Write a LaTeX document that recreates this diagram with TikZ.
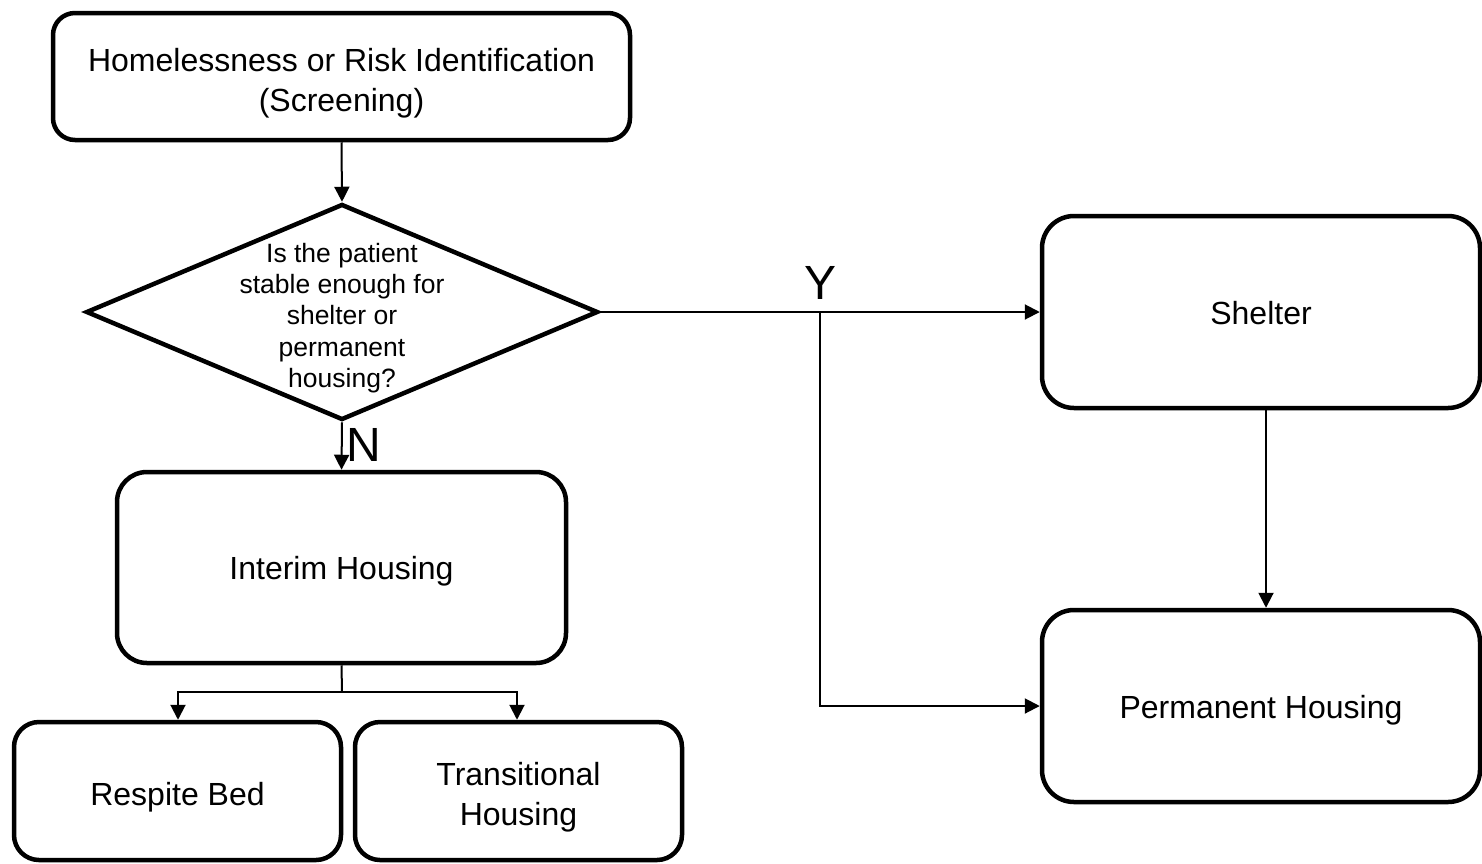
\documentclass[tikz,border=0pt]{standalone}
\usepackage{fontspec}
\setmainfont{Liberation Sans}
\usetikzlibrary{shapes.geometric,arrows.meta}
\begin{document}
\begin{tikzpicture}[x=1pt,y=-1pt,
  box/.style={draw,line width=4.5pt,rounded corners=#1,inner sep=0pt},
  txt/.style={align=center,inner sep=0pt,font=\fontsize{32}{40}\selectfont},
  conn/.style={line width=2pt,-{Triangle[length=15pt,width=15pt]}},
  plain/.style={line width=2pt},
  yn/.style={font=\fontsize{48}{50}\selectfont,inner sep=0pt}]
\useasboundingbox (0,0) rectangle (1482,863);
\node[box=22pt,minimum width=577pt,minimum height=127pt,
  label={[txt,yshift=-7pt]center:Homelessness or Risk Identification\\(Screening)}] (screen) at (341.5,76.5) {};
\node[diamond,draw,line width=4.5pt,minimum width=512pt,minimum height=216pt,inner sep=0pt,
  label={[align=center,font=\fontsize{26.5}{31.2}\selectfont,inner sep=0pt,yshift=-6pt]center:Is the patient\\stable enough for\\shelter or\\permanent\\housing?}] (q) at (342,312) {};
\node[box=30pt,minimum width=449pt,minimum height=191pt,
  label={[txt,yshift=-4pt]center:Interim Housing}] (interim) at (341.5,567.5) {};
\node[box=25pt,minimum width=327pt,minimum height=138pt,
  label={[txt,yshift=-6pt]center:Respite Bed}] (respite) at (177.5,791) {};
\node[box=25pt,minimum width=327pt,minimum height=138pt,
  label={[txt,yshift=-6pt]center:Transitional\\Housing}] (trans) at (518.5,791) {};
\node[box=32pt,minimum width=438pt,minimum height=192pt,
  label={[txt,yshift=-1pt]center:Shelter}] (shelter) at (1261,312) {};
\node[box=32pt,minimum width=438pt,minimum height=192pt,
  label={[txt,yshift=-4pt]center:Permanent Housing}] (perm) at (1261,706) {};
\coordinate (split) at (820,312);
\coordinate (fork) at (342,692);
\draw[conn] (screen.south) -- (q.north);
\draw[conn] (q.south) -- node[yn,right=4pt,pos=0.48] (nlab) {N} (interim.north);
\draw[conn] (q.east) -- (shelter.west);
\node[yn] (ylab) at (820,283) {Y};
\draw[conn] (split) |- (perm.west);
\draw[conn] (shelter.south -| 1266,0) -- (perm.north -| 1266,0);
\draw[plain] (interim.south) -- (fork);
\draw[conn] (fork) -| (respite.north -| 178,0);
\draw[conn] (fork) -| (trans.north -| 517,0);
\end{tikzpicture}
\end{document}
